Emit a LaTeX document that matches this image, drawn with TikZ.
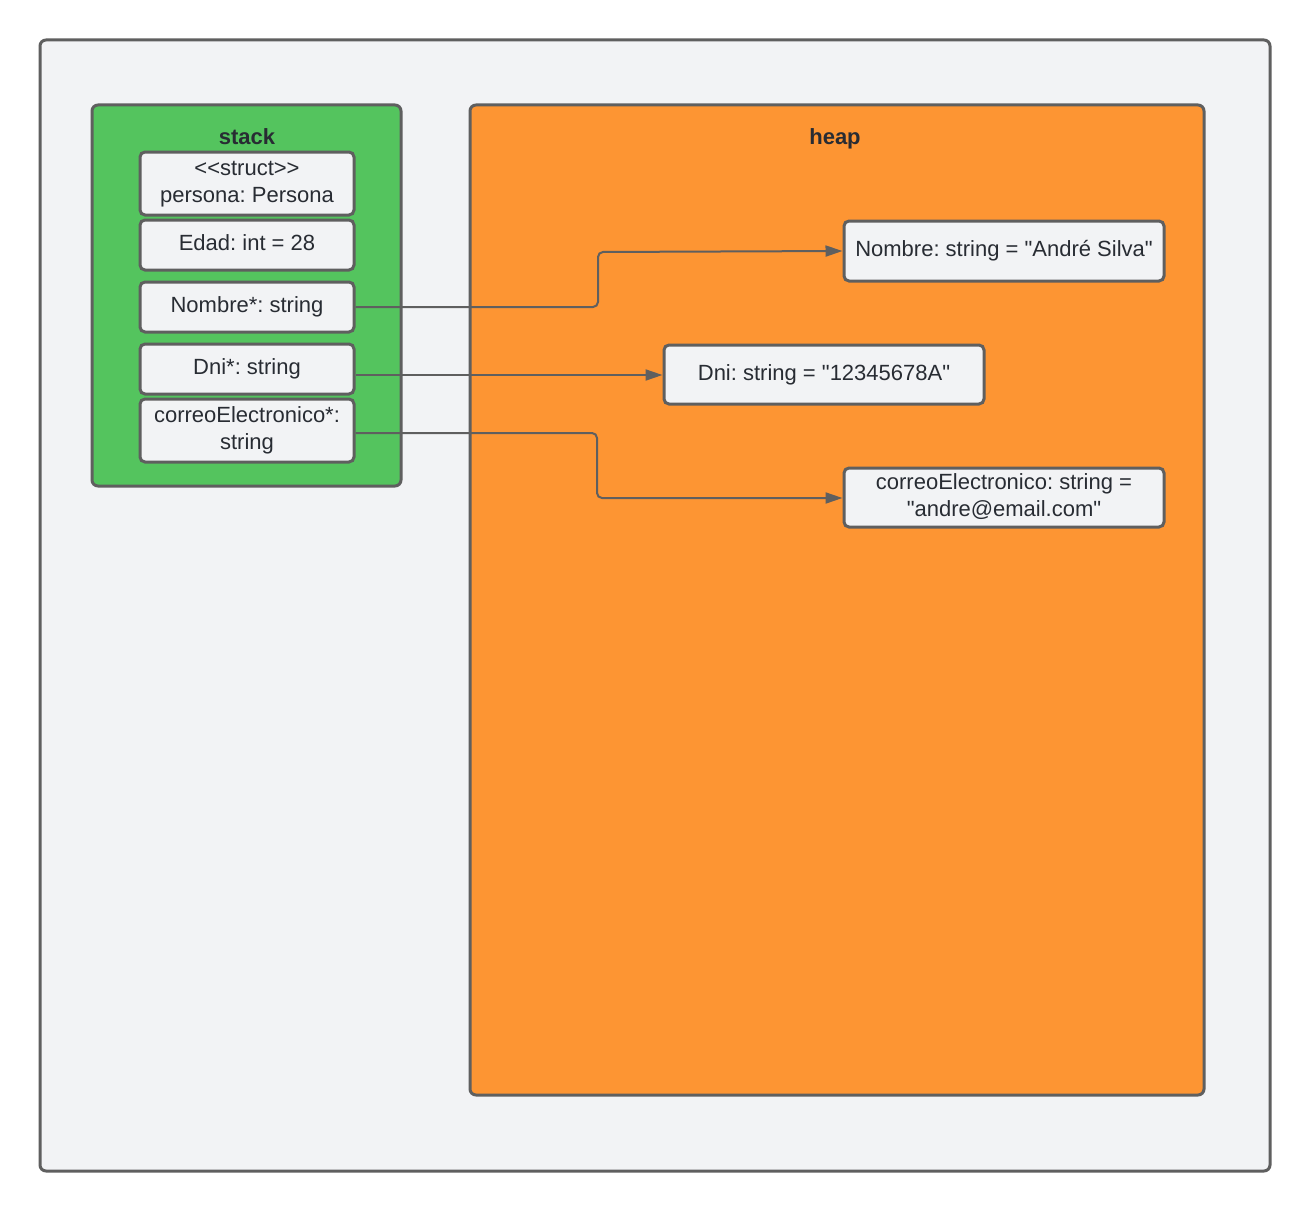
\documentclass[tikz,border=0pt]{standalone}
\usepackage{fontspec}
\newfontfamily\libsans{Liberation Sans}
\usetikzlibrary{arrows.meta}
\definecolor{bgc}{HTML}{F2F3F5}
\definecolor{linec}{HTML}{5F5F5F}
\definecolor{stackc}{HTML}{54C45E}
\definecolor{heapc}{HTML}{FD9533}
\definecolor{txtc}{HTML}{282C33}
\tikzset{
  container/.style={draw=linec, line width=3pt, rounded corners=6pt, inner sep=0pt},
  cell/.style={draw=linec, line width=3pt, fill=bgc, rounded corners=5pt, inner sep=0pt,
    align=center, text=txtc, font=\libsans\fontsize{22}{27}\selectfont\frenchspacing},
  title/.style={text=txtc, font=\libsans\fontsize{22}{25}\selectfont\bfseries, inner sep=0pt, anchor=base},
  link/.style={draw=linec, line width=2pt, rounded corners=5pt, -{Triangle[length=17pt,width=11pt]}},
}
\begin{document}
\begin{tikzpicture}[x=1pt,y=-1pt]
\useasboundingbox (0,0) rectangle (1311,1212);
\fill[white] (0,0) rectangle (1311,1212);
\node[container, fill=bgc, minimum width=1230pt, minimum height=1131pt] (outer) at (655,605.5) {};
\node[container, fill=stackc, minimum width=309pt, minimum height=381pt] (stack) at (246.5,295.5) {};
\node[container, fill=heapc, minimum width=734pt, minimum height=990pt] (heap) at (837,600) {};
\node[title] (stackt) at (247,145) {stack};
\node[title] (heapt) at (835,145) {heap};
% stack cells
\node[cell, minimum width=214pt, minimum height=63pt] (s1) at (247,183.5) {\raisebox{3pt}{\begin{tabular}{@{}c@{}}<<struct>>\\persona: Persona\end{tabular}}};
\node[cell, minimum width=214pt, minimum height=50pt] (s2) at (247,245) {\raisebox{4pt}{Edad: int = 28}};
\node[cell, minimum width=214pt, minimum height=50pt] (s3) at (247,307) {\raisebox{4pt}{Nombre*: string}};
\node[cell, minimum width=214pt, minimum height=50pt] (s4) at (247,369) {\raisebox{4pt}{Dni*: string}};
\node[cell, minimum width=214pt, minimum height=63pt] (s5) at (247,430.5) {\raisebox{3pt}{\begin{tabular}{@{}c@{}}correoElectronico*:\\string\end{tabular}}};
% heap cells
\node[cell, minimum width=320pt, minimum height=60pt] (h1) at (1004,251) {\raisebox{3pt}{Nombre: string = "André Silva"}};
\node[cell, minimum width=320pt, minimum height=59pt] (h2) at (824,374.5) {\raisebox{2pt}{Dni: string = "12345678A"}};
\node[cell, minimum width=320pt, minimum height=59pt] (h3) at (1004,497.5) {\raisebox{2pt}{\begin{tabular}{@{}c@{}}correoElectronico: string =\\"andre@email.com"\end{tabular}}};
% links
\draw[link] (s3.east) -- (598,307) -- (598,252) -- (h1.west);
\draw[link] (s4.east |- 0,375) -- (h2.west |- 0,375);
\draw[link] (s5.east |- 0,433) -- (597,433) -- (597,498) -- (h3.west |- 0,498);
\end{tikzpicture}
\end{document}
